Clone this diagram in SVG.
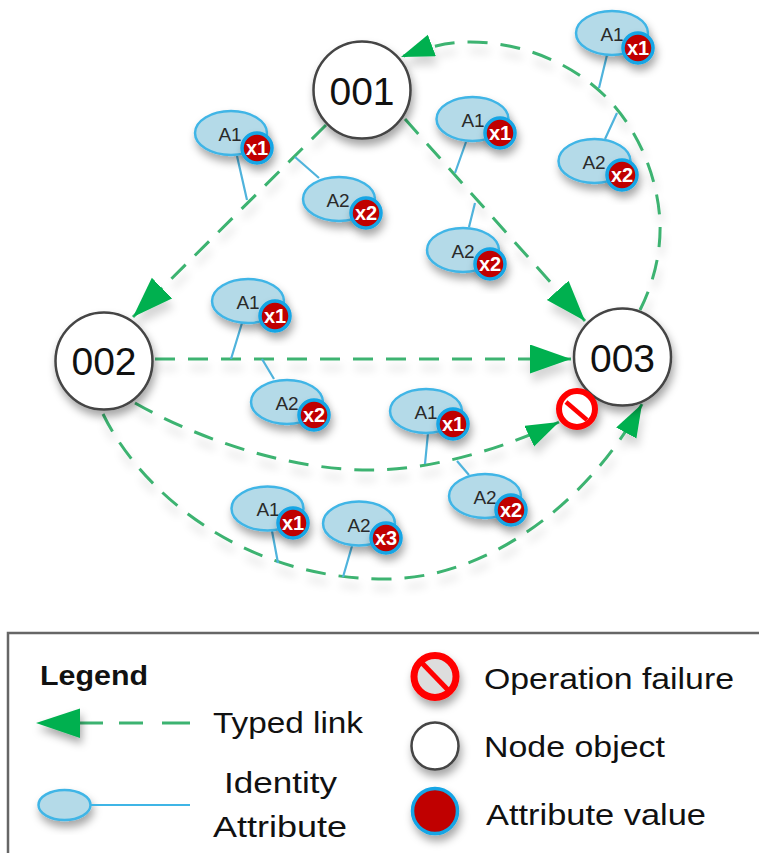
<svg xmlns="http://www.w3.org/2000/svg" width="759" height="853" viewBox="0 0 759 853">
<defs>
<filter id="sh" x="-40%" y="-40%" width="190%" height="190%"><feDropShadow dx="2" dy="6" stdDeviation="4" flood-color="#000" flood-opacity="0.35"/></filter>
<filter id="ls" filterUnits="userSpaceOnUse" x="0" y="0" width="759" height="853"><feDropShadow dx="2" dy="9" stdDeviation="4" flood-color="#000" flood-opacity="0.16"/></filter>
<marker id="ah" markerUnits="userSpaceOnUse" markerWidth="44" markerHeight="30" refX="41" refY="14.500" orient="auto"><path d="M0 0L41 14.500L0 29Z" fill="#00B050"/></marker>
<marker id="as" markerUnits="userSpaceOnUse" markerWidth="36" markerHeight="24" refX="33" refY="11.500" orient="auto"><path d="M0 0L33 11.500L0 23Z" fill="#00B050"/></marker>
</defs>
<style>
text{font-family:"Liberation Sans",Arial,sans-serif}
.lk{fill:none;stroke:#3CB371;stroke-width:3;stroke-dasharray:20 13;filter:url(#ls)}
.st{fill:none;stroke:#4FB3DC;stroke-width:2.200}
.el{fill:#B4DAE8;stroke:#3FB5E6;stroke-width:2.500;filter:url(#sh)}
.bd{fill:#C00000;stroke:#12A5E5;stroke-width:3.500;filter:url(#sh)}
.la{font-size:19px;fill:#2a2a2a;text-anchor:middle}
.lx{font-size:20px;font-weight:bold;fill:#fff;text-anchor:middle}
.nd{fill:#fff;stroke:#444;stroke-width:2.500;filter:url(#sh)}
.nt{font-size:39px;fill:#111;text-anchor:middle}
.no{fill:#fff;stroke:#FF0000;stroke-width:6;filter:url(#sh)}
.lg{font-size:29px;fill:#111}
</style>
<g id="connectors">
<path class="lk" d="M326 125L133 317" marker-end="url(#ah)"/>
<path class="lk" d="M405 119L585 321" marker-end="url(#ah)"/>
<path class="lk" d="M155 359L571 359" marker-end="url(#ah)"/>
<path class="lk" d="M135 403C200 440 290 470 370 470C430 470 500 450 559 422" marker-end="url(#as)"/>
<path class="lk" d="M103 414C140 490 240 579 385 579C490 579 590 500 642 404" marker-end="url(#as)"/>
<path class="lk" d="M640 310C655 280 661 250 660 222C658 180 640 130 604 95C570 62 520 42 470 42C445 42 425 48 401 57" marker-end="url(#as)"/>
<path class="st" d="M237 156L247 200M295 157L319 178M466 142L455 173M475 203L469 227M607 55L599 88M617 113L605 139M242 323L231 359M262 359L274 379M428 433L425 464M457 461L469 475M272 531L278 563M352 546L343 577"/>
</g>
<g id="attr-a1-1"><ellipse class="el" cx="231" cy="133" rx="36" ry="22"/><text class="la" x="230" y="141">A1</text><circle class="bd" cx="257" cy="148" r="15"/><text class="lx" x="257" y="155">x1</text></g>
<g id="attr-a2-1"><ellipse class="el" cx="339" cy="199" rx="36" ry="22"/><text class="la" x="338" y="207">A2</text><circle class="bd" cx="366" cy="213" r="15"/><text class="lx" x="366" y="220">x2</text></g>
<g id="attr-a1-2"><ellipse class="el" cx="472.500" cy="119" rx="36" ry="22"/><text class="la" x="473" y="127">A1</text><circle class="bd" cx="500" cy="133" r="15"/><text class="lx" x="500" y="140">x1</text></g>
<g id="attr-a2-2"><ellipse class="el" cx="463" cy="250" rx="36" ry="22"/><text class="la" x="463" y="258">A2</text><circle class="bd" cx="490" cy="264" r="15"/><text class="lx" x="490" y="271">x2</text></g>
<g id="attr-a1-3"><ellipse class="el" cx="612" cy="33" rx="36" ry="22"/><text class="la" x="612" y="41">A1</text><circle class="bd" cx="638" cy="48" r="15"/><text class="lx" x="638" y="55">x1</text></g>
<g id="attr-a2-3"><ellipse class="el" cx="594.500" cy="161" rx="36" ry="22"/><text class="la" x="594" y="169">A2</text><circle class="bd" cx="622" cy="175" r="15"/><text class="lx" x="622" y="182">x2</text></g>
<g id="attr-a1-4"><ellipse class="el" cx="248" cy="301" rx="36" ry="22"/><text class="la" x="248" y="309">A1</text><circle class="bd" cx="275" cy="316" r="15"/><text class="lx" x="275" y="323">x1</text></g>
<g id="attr-a2-4"><ellipse class="el" cx="287" cy="402" rx="36" ry="22"/><text class="la" x="287" y="410">A2</text><circle class="bd" cx="314" cy="415" r="15"/><text class="lx" x="314" y="422">x2</text></g>
<g id="attr-a1-5"><ellipse class="el" cx="426" cy="411" rx="36" ry="22"/><text class="la" x="426" y="419">A1</text><circle class="bd" cx="453" cy="424" r="15"/><text class="lx" x="453" y="431">x1</text></g>
<g id="attr-a2-5"><ellipse class="el" cx="485" cy="496" rx="36" ry="22"/><text class="la" x="485" y="504">A2</text><circle class="bd" cx="511" cy="510" r="15"/><text class="lx" x="511" y="517">x2</text></g>
<g id="attr-a1-6"><ellipse class="el" cx="267.500" cy="508.500" rx="36" ry="22"/><text class="la" x="268" y="516">A1</text><circle class="bd" cx="293" cy="523" r="15"/><text class="lx" x="293" y="530">x1</text></g>
<g id="attr-a2-6"><ellipse class="el" cx="359" cy="523.500" rx="36" ry="22"/><text class="la" x="359" y="532">A2</text><circle class="bd" cx="386" cy="538" r="15"/><text class="lx" x="386" y="545">x3</text></g>
<g id="node-001"><circle class="nd" cx="362" cy="90" r="48.500"/><text class="nt" x="362" y="105">001</text></g>
<g id="node-002"><circle class="nd" cx="104" cy="361" r="48.500"/><text class="nt" x="104" y="375">002</text></g>
<g id="node-003"><circle class="nd" cx="622.500" cy="357" r="48.500"/><text class="nt" x="622.500" y="372">003</text></g>
<g id="failure"><circle class="no" cx="577" cy="409" r="18"/><path d="M566 402L587 420" stroke="#FF0000" stroke-width="4.500"/></g>
<g id="legend">
<rect x="8" y="633" width="800" height="300" fill="none" stroke="#666" stroke-width="2.500"/>
<text x="40" y="685" font-size="28" font-weight="bold" fill="#111" textLength="108" lengthAdjust="spacingAndGlyphs">Legend</text>
<path d="M80 723L190 723" fill="none" stroke="#3CB371" stroke-width="3" stroke-dasharray="23 16 24 19 28 10"/>
<path d="M36 723L80 708.500L80 738Z" fill="#00B050" filter="url(#sh)"/>
<text class="lg" x="213" y="733" textLength="150" lengthAdjust="spacingAndGlyphs">Typed link</text>
<ellipse class="el" cx="64.500" cy="805" rx="26" ry="15"/>
<path d="M91 805L190 805" stroke="#3FB5E6" stroke-width="2.200"/>
<text class="lg" x="224" y="793" textLength="113" lengthAdjust="spacingAndGlyphs">Identity</text>
<text class="lg" x="213" y="837" textLength="134" lengthAdjust="spacingAndGlyphs">Attribute</text>
<circle class="no" cx="435" cy="676.500" r="21" style="fill:#DDD;stroke-width:7"/><path d="M422 663L448 690" stroke="#FF0000" stroke-width="5"/>
<text class="lg" x="484" y="689" textLength="250" lengthAdjust="spacingAndGlyphs">Operation failure</text>
<circle class="nd" cx="435" cy="746" r="23.500"/>
<text class="lg" x="484" y="757" textLength="181" lengthAdjust="spacingAndGlyphs">Node object</text>
<circle class="bd" cx="435" cy="811" r="22.500"/>
<text class="lg" x="486" y="825" textLength="220" lengthAdjust="spacingAndGlyphs">Attribute value</text>
</g>
</svg>
